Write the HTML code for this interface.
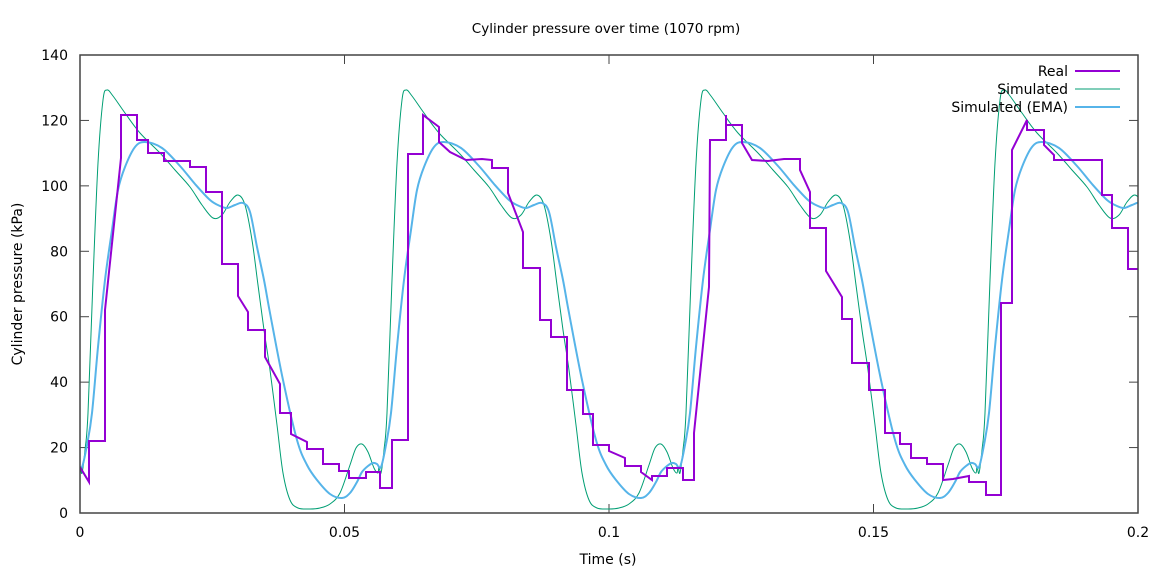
<!DOCTYPE html>
<html><head><meta charset="utf-8"><style>
body{margin:0;background:#fff;}
svg{display:block;font-family:"DejaVu Sans","Liberation Sans",sans-serif;font-size:14px;}
</style></head><body>
<svg id="s" width="1164" height="571" viewBox="0 0 1164 571" xmlns="http://www.w3.org/2000/svg">
<defs><clipPath id="c"><rect x="80" y="55" width="1058" height="458"/></clipPath></defs>
<rect width="1164" height="571" fill="#fff"/>
<text x="606" y="33" text-anchor="middle" font-size="13.5">Cylinder pressure over time (1070 rpm)</text>
<g id="ticks" stroke="#444" stroke-width="1"></g>
<g id="labels" fill="#000"></g>
<text x="608" y="564" text-anchor="middle">Time (s)</text>
<text transform="translate(22,284) rotate(-90)" text-anchor="middle">Cylinder pressure (kPa)</text>
<g clip-path="url(#c)" fill="none">
<path id="green" stroke="#009e73" stroke-width="1"/>
<path id="blue" stroke="#56b4e9" stroke-width="2"/>
<polyline stroke="#9400d3" stroke-width="2" stroke-linejoin="miter" points="
80,467 89,482 89,441 105,441 105,310 121,158 121,115 137,115 137,140 148,140 148,153 164,153 164,161 190,161 190,167 206,167 206,192 222,192 222,264 238,264 238,296 248,312 248,330 265,330 265,357 280,384 280,413 291,413 291,434 307,442 307,449 323,449 323,464 339,464 339,471 349,471 349,478 366,478 366,472 380,472 380,488 392,488 392,440 408,440 408,154 423,154 423,115 439,127 439,142 450,152 466,160 482,159 492,160 492,168 508,168 508,193 523,232 523,268 540,268 540,320 551,320 551,337 567,337 567,390 583,390 583,414 593,414 593,445 609,445 609,451 625,458 625,466 641,466 641,472 652,480 652,476 667,476 667,468 683,468 683,480 694,480 694,433 709,287 710,140 726,140 726,115 726,125 742,125 742,143 752,160 768,161 784,159 800,159 800,170 810,192 810,228 826,228 826,271 842,297 842,319 852,319 852,363 869,363 869,390 885,390 885,433 900,433 900,444 911,444 911,458 927,458 927,464 943,464 943,480 953,479 969,476 969,482 986,482 986,495 1001,495 1001,303 1012,303 1012,150 1027,120 1027,130 1044,130 1044,145 1054,155 1054,160 1102,160 1102,195 1112,195 1112,228 1128,228 1128,269 1138,269"/>
</g>
<rect x="80" y="55" width="1058" height="458" fill="none" stroke="#444" stroke-width="1.5"/>
<g text-anchor="end">
<text x="1068" y="76">Real</text>
<text x="1068" y="94">Simulated</text>
<text x="1068" y="112">Simulated (EMA)</text>
</g>
<line x1="1075" y1="71" x2="1120" y2="71" stroke="#9400d3" stroke-width="2"/>
<line x1="1075" y1="89" x2="1120" y2="89" stroke="#009e73" stroke-width="1"/>
<line x1="1075" y1="107" x2="1120" y2="107" stroke="#56b4e9" stroke-width="2"/>
</svg>
<script>
var NS="http://www.w3.org/2000/svg";
var tk=document.getElementById("ticks"),lb=document.getElementById("labels");
function ln(a,b,c,d){var l=document.createElementNS(NS,"line");l.setAttribute("x1",a);l.setAttribute("y1",b);l.setAttribute("x2",c);l.setAttribute("y2",d);tk.appendChild(l);}
function tx(x,y,s,anc){var t=document.createElementNS(NS,"text");t.setAttribute("x",x);t.setAttribute("y",y);t.setAttribute("text-anchor",anc);t.textContent=s;lb.appendChild(t);}
for(var i=0;i<=7;i++){var y=513-i*458/7;ln(80,y,89,y);ln(1138,y,1129,y);tx(68,y+5,String(i*20),"end");}
var xl=["0","0.05","0.1","0.15","0.2"];
for(var i=0;i<=4;i++){var x=80+i*264.5;ln(x,513,x,504);ln(x,55,x,64);tx(x,537,xl[i],"middle");}
var G=[[80,466],[82,473],[85,450],[88,413],[93,280],[98,163],[103,100],[107,90],[113,96],[125,113],[140,133],[160,153],[175,170],[190,187],[202,205],[213,218],[222,215],[230,202],[238,195],[245,205],[252,240],[258,285],[264,330],[270,370],[277,425],[283,473],[290,500],[298,508],[310,509],[320,508],[330,504],[340,493],[350,465],[356,448],[362,444],[368,452],[374,468],[378,473]];
var B=[[78,464],[82,467],[87,445],[92,413],[98,347],[105,280],[112,230],[118,190],[125,167],[135,147],[145,142],[162,148],[180,166],[195,184],[210,200],[220,206],[227,208],[235,205],[243,203],[250,212],[257,247],[264,280],[270,313],[283,380],[297,440],[307,465],[317,480],[330,494],[342,498],[350,493],[357,482],[362,472],[368,466],[373,463]];
function build(P){var pts=[];for(var k=-1;k<=3;k++){for(var j=0;j<P.length;j++)pts.push([P[j][0]+299*k,P[j][1]]);}
var d="M"+pts[0][0]+","+pts[0][1];
for(var i=0;i<pts.length-1;i++){var p0=pts[Math.max(i-1,0)],p1=pts[i],p2=pts[i+1],p3=pts[Math.min(i+2,pts.length-1)];
d+=" C"+(p1[0]+(p2[0]-p0[0])/6)+","+(p1[1]+(p2[1]-p0[1])/6)+" "+(p2[0]-(p3[0]-p1[0])/6)+","+(p2[1]-(p3[1]-p1[1])/6)+" "+p2[0]+","+p2[1];}
return d;}
document.getElementById("green").setAttribute("d",build(G));
document.getElementById("blue").setAttribute("d",build(B));
</script>
</body></html>
